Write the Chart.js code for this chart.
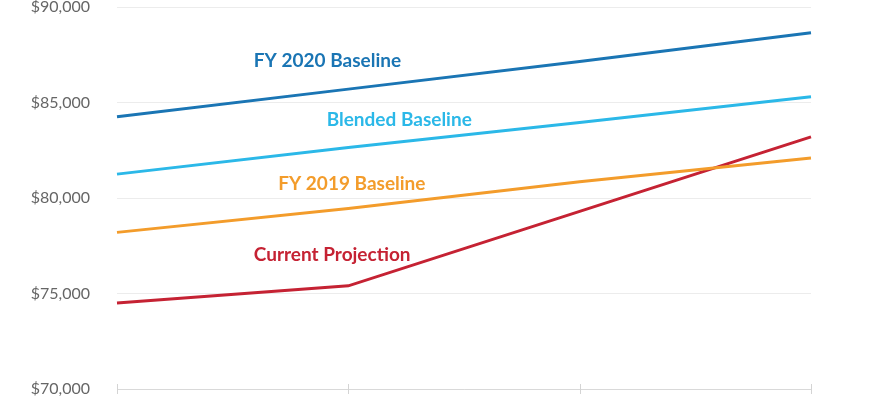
<!DOCTYPE html>
<html>
<head>
<meta charset="utf-8">
<script src="https://cdn.jsdelivr.net/npm/chart.js@4"></script>
<style>
  body { margin: 0; background: #fff; }
  #wrap { width: 870px; height: 400px; }
</style>
</head>
<body>
<div id="wrap"><canvas id="myChart"></canvas></div>
<script>
// years along the x axis (labels are not shown in the picture)
const years = ["FY 2019", "FY 2020", "FY 2021", "FY 2022"];
// series values, dollars
const fy2020Baseline = [84250, 85700, 87150, 88650];
const blendedBaseline = [81250, 82650, 83950, 85300];
const fy2019Baseline = [78200, 79450, 80850, 82100];
const currentProjection = [74500, 75400, 79300, 83200];
// y axis ticks
const yTicks = [70000, 75000, 80000, 85000, 90000];

const names = ["FY 2020 Baseline", "Blended Baseline", "FY 2019 Baseline", "Current Projection"];
const colors = ["#1a75b4", "#2bb8e8", "#f39c2b", "#c52233"];
const series = [fy2020Baseline, blendedBaseline, fy2019Baseline, currentProjection];

// where the in-chart names sit (x as category position, y as dollars)
const nameSpots = [
  { x: 0.91, y: 87200 },
  { x: 1.22, y: 84100 },
  { x: 1.015, y: 80750 },
  { x: 0.93, y: 77000 },
];

const lineNames = {
  id: "lineNames",
  afterDatasetsDraw(chart) {
    const ctx = chart.ctx;
    const xs = chart.scales.x;
    const ys = chart.scales.y;
    ctx.save();
    ctx.font = "bold 19px Lato";
    ctx.textAlign = "center";
    ctx.textBaseline = "middle";
    names.forEach((n, i) => {
      ctx.fillStyle = colors[i];
      ctx.fillText(n, xs.getPixelForValue(nameSpots[i].x), ys.getPixelForValue(nameSpots[i].y));
    });
    ctx.restore();
  },
};

// short ticks crossing the bottom axis
const crossTicks = {
  id: "crossTicks",
  afterDraw(chart) {
    const ctx = chart.ctx;
    const xs = chart.scales.x;
    const bottom = chart.chartArea.bottom;
    ctx.save();
    ctx.strokeStyle = "#d4d4d4";
    ctx.lineWidth = 1;
    xs.ticks.forEach((t, i) => {
      const px = Math.round(xs.getPixelForTick(i)) + 0.5;
      ctx.beginPath();
      ctx.moveTo(px, bottom - 5);
      ctx.lineTo(px, bottom + 5);
      ctx.stroke();
    });
    ctx.restore();
  },
};

const data = {
  labels: years,
  datasets: series.map((s, i) => ({
    label: names[i],
    data: s,
    borderColor: colors[i],
    backgroundColor: colors[i],
    borderWidth: 3,
    pointRadius: 0,
    tension: 0,
    fill: false,
  })),
};

const config = {
  type: "line",
  data: data,
  options: {
    responsive: true,
    maintainAspectRatio: false,
    animation: false,
    layout: { padding: { top: 7, right: 59, bottom: 0, left: 0 } },
    plugins: {
      legend: { display: false },
      tooltip: { enabled: false },
    },
    scales: {
      x: {
        ticks: { display: false },
        grid: { display: false },
        border: { display: true, color: "#d9d9d9", width: 1 },
        afterFit(scale) {
          scale.height = 11;
          scale.paddingLeft = 0;
          scale.paddingRight = 0;
        },
      },
      y: {
        min: 70000,
        max: 90000,
        afterBuildTicks(scale) {
          scale.ticks = yTicks.map((v) => ({ value: v }));
        },
        ticks: {
          padding: 27,
          color: "#666",
          font: { family: "Lato", size: 16 },
          callback: (v) => "$" + Number(v).toLocaleString("en-US"),
        },
        grid: { color: "#ececec", drawTicks: false, lineWidth: 1 },
        border: { display: false },
        afterFit(scale) {
          scale.width = 117;
          scale.paddingTop = 0;
          scale.paddingBottom = 0;
        },
      },
    },
  },
  plugins: [lineNames, crossTicks],
};

const myChart = new Chart(document.getElementById("myChart"), config);
</script>
</body>
</html>
